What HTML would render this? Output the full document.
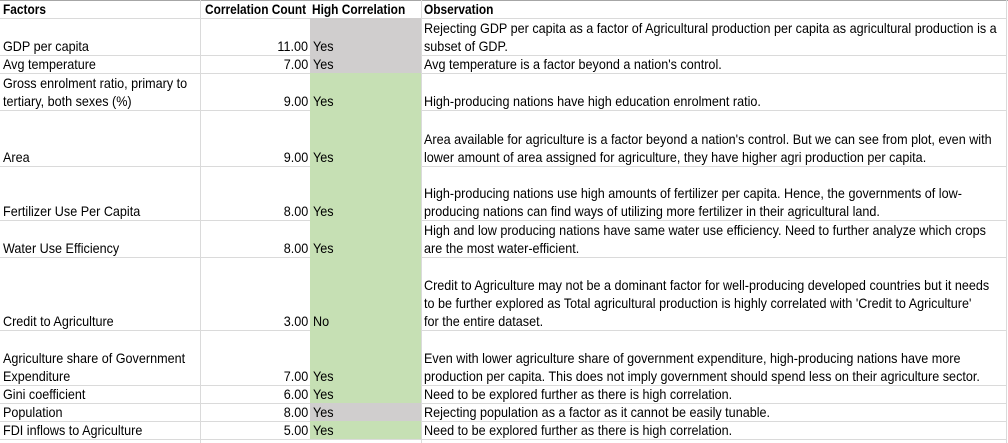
<!DOCTYPE html>
<html><head><meta charset="utf-8">
<style>
body{margin:0;background:#fff;width:1008px;height:443px;overflow:hidden;position:relative;font-family:"Liberation Sans",Arial,sans-serif;color:#000}
.cell{position:absolute;box-sizing:border-box;border-bottom:1px solid #dadada}
.ln{position:absolute;height:18px;line-height:18px;font-size:14px;white-space:nowrap;transform:scaleX(0.9);transform-origin:left center}
.ln.b{transform:scaleX(0.85)}
.r{transform-origin:right center}
.vl{position:absolute;top:0;width:1px;background:#dadada}
</style></head>
<body>
<div id="sheet"></div>
<script>
const cols=[[0,200],[200,310],[310,421],[421,1007]];
const rows=[
 {b:18,h:18,a:["Factors"],n:"Correlation Count",c:"High Correlation",d:["Observation"],hdr:1,fill:"#fff"},
 {b:55,h:37,a:["GDP per capita"],n:"11.00",c:"Yes",d:["Rejecting GDP per capita as a factor of Agricultural production per capita as agricultural production is a","subset of GDP."],fill:"#d0cece"},
 {b:73,h:18,a:["Avg temperature"],n:"7.00",c:"Yes",d:["Avg temperature is a factor beyond a nation's control."],fill:"#d0cece"},
 {b:110,h:37,a:["Gross enrolment ratio, primary to","tertiary, both sexes (%)"],n:"9.00",c:"Yes",d:["High-producing nations have high education enrolment ratio."],fill:"#c6e0b4"},
 {b:166,h:56,a:["Area"],n:"9.00",c:"Yes",d:["Area available for agriculture is a factor beyond a nation's control. But we can see from plot, even with","lower amount of area assigned for agriculture, they have higher agri production per capita."],fill:"#c6e0b4"},
 {b:220,h:54,a:["Fertilizer Use Per Capita"],n:"8.00",c:"Yes",d:["High-producing nations use high amounts of fertilizer per capita. Hence, the governments of low-","producing nations can find ways of utilizing more  fertilizer in their agricultural land."],fill:"#c6e0b4"},
 {b:257,h:37,a:["Water Use Efficiency"],n:"8.00",c:"Yes",d:["High and low producing nations have same water use efficiency. Need to further analyze which crops","are the most water-efficient."],fill:"#c6e0b4"},
 {b:330,h:73,a:["Credit to Agriculture"],n:"3.00",c:"No",d:["Credit to Agriculture may not be a dominant factor for well-producing developed countries but it needs","to be further explored as Total agricultural production is  highly correlated with 'Credit to Agriculture'","for the entire dataset."],fill:"#c6e0b4"},
 {b:385,h:55,a:["Agriculture share of Government","Expenditure"],n:"7.00",c:"Yes",d:["Even with lower agriculture share of government expenditure, high-producing nations have more","production per capita. This does not imply government should spend less on their agriculture sector."],fill:"#c6e0b4"},
 {b:403,h:18,a:["Gini coefficient"],n:"6.00",c:"Yes",d:["Need to be explored further as there is high correlation."],fill:"#c6e0b4"},
 {b:421,h:18,a:["Population"],n:"8.00",c:"Yes",d:["Rejecting population as a factor as it cannot be easily tunable."],fill:"#d0cece"},
 {b:439,h:18,a:["FDI inflows to Agriculture"],n:"5.00",c:"Yes",d:["Need to be explored further as there is high correlation."],fill:"#c6e0b4"}
];
const sheet=document.getElementById('sheet');
const top0=document.createElement('div');
top0.style.cssText='position:absolute;left:0;top:0;width:1008px;height:1px;background:#a6a6a6';


sheet.appendChild(top0);
function addLines(parent,lines,x,bottom,right,bold){
  lines.forEach((t,i)=>{
    const s=document.createElement('div');
    s.className='ln'+(right?' r':'')+(bold?' b':'');
    s.textContent=t;
    const y=bottom-18*(lines.length-i);
    s.style.top=y+'px';
    if(right){s.style.right=(1008-x)+'px';}else{s.style.left=x+'px';}
    if(bold)s.style.fontWeight='bold';
    
    
    parent.appendChild(s);
  });
}
rows.forEach((r,ri)=>{
  const top=r.b-r.h;
  cols.forEach((c,ci)=>{
    const d=document.createElement('div');
    d.className='cell';
    d.style.left=c[0]+'px';d.style.top=top+'px';d.style.width=(c[1]-c[0])+'px';d.style.height=(r.h+1)+'px';
    if(ci===2&&!r.hdr)d.style.background=r.fill;
    
    
    sheet.appendChild(d);
  });
  addLines(sheet,r.a,3,r.b,false,r.hdr);
  if(r.hdr){addLines(sheet,[r.n],205,r.b,false,true);}
  else addLines(sheet,[r.n],308,r.b,true,false);
  addLines(sheet,[r.c],r.hdr?312:313,r.b,false,r.hdr);
  addLines(sheet,r.d,424,r.b,false,r.hdr);
});
[200,421,1006].forEach(x=>{
  const v=document.createElement('div');
  v.className='vl';v.style.left=x+'px';v.style.height='443px';
  
  
  sheet.appendChild(v);
});
</script>
</body></html>
